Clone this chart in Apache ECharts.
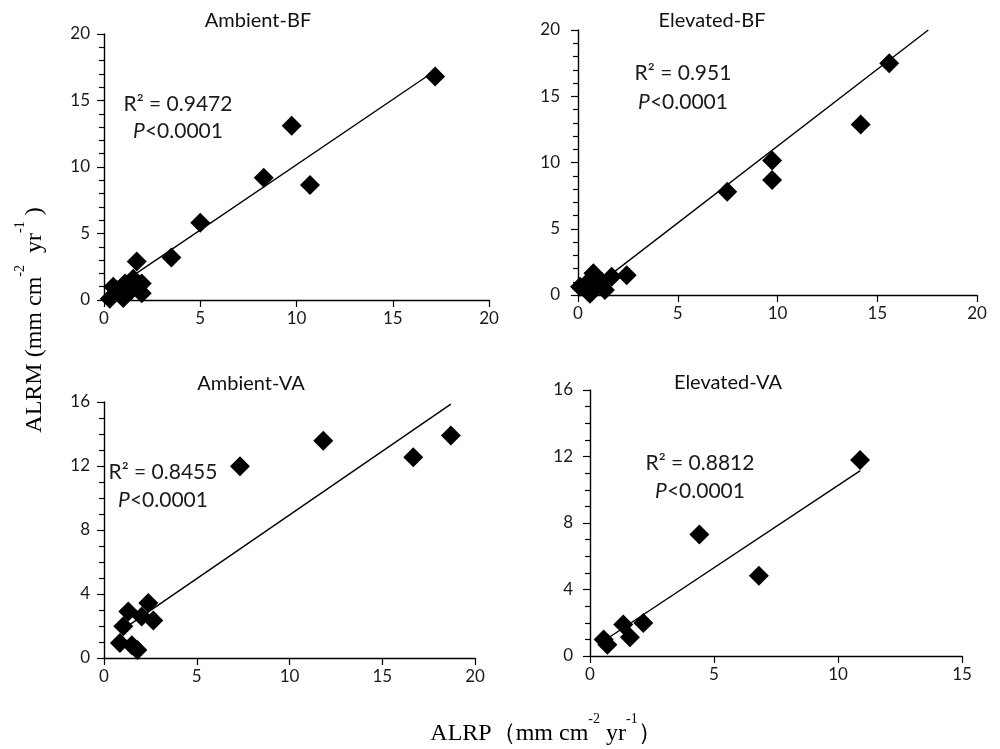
<!DOCTYPE html>
<html>
<head>
<meta charset="utf-8">
<script src="https://cdn.jsdelivr.net/npm/echarts@6/dist/echarts.min.js"></script>
<style>html,body{margin:0;padding:0;background:#fff}#c{width:1000px;height:749px}</style>
</head>
<body>
<div id="c"></div>
<script>
// ---- data ----
const panelTitles = ['Ambient-BF', 'Elevated-BF', 'Ambient-VA', 'Elevated-VA'];
const r2Labels = ['R² = 0.9472', 'R² = 0.951', 'R² = 0.8455', 'R² = 0.8812'];
const pLabel = 'P<0.0001';

const abfX = [17.2, 9.75, 8.3, 10.7, 5.0, 3.5, 1.7, 0.48, 0.3, 1.0, 1.09, 1.52, 1.96, 1.96, 1.43, 0.74];
const abfY = [16.8, 13.1, 9.2, 8.65, 5.8, 3.2, 2.9, 1.0, 0.1, 0.15, 1.25, 1.6, 1.25, 0.5, 0.75, 0.75];
const ebfX = [15.6, 14.17, 9.73, 9.73, 7.48, 2.44, 1.69, 0.77, 0.1, 0.6, 0.94, 1.35, 1.19, 0.52];
const ebfY = [17.5, 12.86, 10.16, 8.67, 7.8, 1.5, 1.38, 1.64, 0.63, 0.1, 0.88, 0.38, 1.0, 1.0];
const avaX = [7.33, 11.82, 16.67, 18.7, 1.31, 2.39, 2.66, 2.03, 1.04, 0.86, 1.5, 1.8];
const avaY = [11.98, 13.58, 12.54, 13.9, 2.9, 3.43, 2.35, 2.6, 1.98, 0.94, 0.8, 0.5];
const evaX = [10.89, 4.41, 6.81, 2.15, 1.34, 1.61, 0.55, 0.7];
const evaY = [11.79, 7.31, 4.82, 1.98, 1.9, 1.13, 1.0, 0.68];

// trend lines: [x, y] end points
const abfFit = [[0.3, 0.65], [17.2, 17.24]];
const ebfFit = [[0.4, 0.1], [17.56, 20]];
const avaFit = [[0.9, 1.7], [18.7, 15.87]];
const evaFit = [[0.55, 0.9], [10.9, 11.15]];

const xTicks = [[0, 20, 5], [0, 20, 5], [0, 20, 5], [0, 15, 5]];
const yTicks = [[0, 20, 5], [0, 20, 5], [0, 16, 4], [0, 16, 4]];

const xs = [abfX, ebfX, avaX, evaX];
const ys = [abfY, ebfY, avaY, evaY];
const fits = [abfFit, ebfFit, avaFit, evaFit];

// ---- layout ----
const grids = [
  {left: 104, top: 34, width: 385, height: 266},
  {left: 578, top: 30, width: 399, height: 265},
  {left: 104, top: 402, width: 371, height: 256},
  {left: 590, top: 390, width: 372, height: 266}
];
const titlePos = [[253, 6], [707, 6], [246, 369], [723, 368]];
const annPos = [[178, 104, 131], [683, 73, 102], [163, 472, 500], [700, 463, 491]];
const yLabelMargin = [14, 18, 14, 17];

const sans = 'Lato, "Open Sans", sans-serif';
const serif = '"Liberation Serif", "DejaVu Serif", serif';

const xAxes = [], yAxes = [], series = [], titles = [], graphics = [];
for (let i = 0; i < 4; i++) {
  xAxes.push({
    gridIndex: i, type: 'value', min: xTicks[i][0], max: xTicks[i][1], interval: xTicks[i][2],
    axisLine: {show: true, onZero: false, lineStyle: {color: '#000', width: 1.4}},
    axisTick: {show: true, inside: false, length: 7, lineStyle: {color: '#000', width: 1.2}},
    axisLabel: {color: '#1a1a1a', fontSize: 17, fontFamily: sans, margin: 10},
    splitLine: {show: false}
  });
  yAxes.push({
    gridIndex: i, type: 'value', min: yTicks[i][0], max: yTicks[i][1], interval: yTicks[i][2],
    axisLine: {show: true, onZero: false, lineStyle: {color: '#000', width: 1.4}},
    axisTick: {show: true, inside: false, length: 7, lineStyle: {color: '#000', width: 1.2}},
    minorTick: {show: true, splitNumber: yTicks[i][2], length: 5, lineStyle: {color: '#000', width: 1.2}},
    axisLabel: {color: '#1a1a1a', fontSize: 17, fontFamily: sans, margin: yLabelMargin[i]},
    splitLine: {show: false}, minorSplitLine: {show: false}
  });
  series.push({
    type: 'line', xAxisIndex: i, yAxisIndex: i, data: fits[i], showSymbol: false, symbol: 'none',
    lineStyle: {color: '#000', width: 1.4}, silent: true, clip: true, z: 2
  });
  series.push({
    type: 'scatter', xAxisIndex: i, yAxisIndex: i,
    data: xs[i].map((x, k) => [x, ys[i][k]]),
    symbol: 'diamond', symbolSize: [20, 20],
    itemStyle: {color: '#000', opacity: 1}, z: 3
  });
  titles.push({
    text: panelTitles[i], left: titlePos[i][0], top: titlePos[i][1], textAlign: 'center',
    textStyle: {fontFamily: sans, fontSize: 20, fontWeight: 'normal', color: '#111'}
  });
  graphics.push({
    type: 'text', x: annPos[i][0], y: annPos[i][1],
    style: {text: r2Labels[i], font: '21px ' + sans, fill: '#1a1a1a', align: 'center', verticalAlign: 'middle'}
  });
  graphics.push({
    type: 'text', x: annPos[i][0], y: annPos[i][2],
    style: {
      text: '{i|P}{n|<0.0001}', align: 'center', verticalAlign: 'middle',
      rich: {
        i: {fontFamily: sans, fontSize: 21, fontStyle: 'italic', fill: '#1a1a1a', color: '#1a1a1a'},
        n: {fontFamily: sans, fontSize: 21, fill: '#1a1a1a', color: '#1a1a1a'}
      }
    }
  });
}

const richLab = {
  m: {fontFamily: serif, fontSize: 24, color: '#222', lineHeight: 44},
  s: {fontFamily: serif, fontSize: 14, color: '#222', lineHeight: 12, verticalAlign: 'top'}
};
graphics.push({
  type: 'text', x: 546, y: 734,
  style: {text: '{m|ALRP（mm cm}{s|-2}{m| yr}{s|-1}{m|）}', align: 'center', verticalAlign: 'middle', rich: richLab}
});
graphics.push({
  type: 'text', x: 35, y: 320, rotation: Math.PI / 2,
  style: {text: '{m|ALRM (mm cm}{s|-2}{m|  yr}{s|-1}{m| )}', align: 'center', verticalAlign: 'middle', rich: richLab}
});

const chart = echarts.init(document.getElementById('c'), null, {renderer: 'canvas'});
chart.setOption({
  animation: false,
  backgroundColor: '#fff',
  title: titles,
  grid: grids,
  xAxis: xAxes,
  yAxis: yAxes,
  series: series,
  graphic: graphics
});
</script>
</body>
</html>
